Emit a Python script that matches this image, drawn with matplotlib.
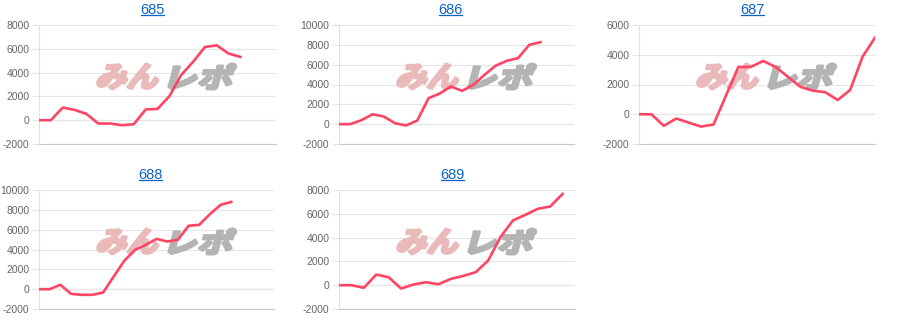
import matplotlib
matplotlib.use('Agg')
import matplotlib.pyplot as plt
from matplotlib.textpath import TextPath
from matplotlib.patches import PathPatch
from matplotlib.font_manager import FontProperties
from matplotlib.transforms import Affine2D, IdentityTransform
from matplotlib.lines import Line2D

plt.rcParams['axes.unicode_minus'] = False

# values, one list per machine
names = ['685', '686', '687', '688', '689']
v685 = [0, 0, 1060, 870, 530, -280, -280, -420, -340, 900, 950, 2010,
        3800, 4900, 6150, 6290, 5600, 5320]
v686 = [0, 0, 400, 1000, 770, 100, -130, 370, 2620, 3090, 3800, 3360,
        3960, 4970, 5900, 6390, 6660, 8000, 8270]
v687 = [0, 0, -780, -290, -560, -830, -690, 1250, 3180, 3180, 3580, 3180,
        2510, 1840, 1590, 1480, 960, 1630, 3870, 5150]
v688 = [0, 0, 440, -470, -570, -570, -340, 1280, 2890, 3970, 4470, 5070,
        4810, 4970, 6390, 6490, 7560, 8500, 8800]
v689 = [0, 0, -220, 890, 670, -280, 60, 250, 80, 530, 780, 1090, 2060,
        4040, 5440, 5910, 6420, 6610, 7670]
series = [v685, v686, v687, v688, v689]
n_labels = [21, 22, 20, 23, 20]
y_max = [8000, 10000, 6000, 10000, 8000]

W, H = 900, 330
LINE = '#ff4563'
LINK = '#0b62c9'

# plot boxes in image pixels: left, top, right, bottom
boxes = [(39, 25, 276, 144), (339, 25, 574, 144), (639, 25, 875, 144),
         (39, 190, 274, 309), (339, 190, 575, 309)]
titles_at = [(152, 10), (450, 10), (752, 10), (150, 175), (452, 175)]
offsets = [(0, 0), (300, 0), (600, 0), (0, 165), (300, 165)]

fig = plt.figure(figsize=(W / 100, H / 100), dpi=100)
wm_font = FontProperties(family='Noto Sans CJK JP', weight='bold')


def watermark(ax, text, x0, y0, x1, y1, color):
    # skewed, heavy text path fitted into an image-pixel box
    p = TextPath((0, 0), text, size=30, prop=wm_font)
    bb = p.get_extents()
    h = y1 - y0
    lean = 0.27 * h
    tr = (Affine2D().translate(-bb.x0, -bb.y0)
          .scale((x1 - x0 - lean - 2) / bb.width, (h - 2) / bb.height)
          .skew_deg(15, 0)
          .translate(x0 + 1, H - y1 + 1))
    patch = PathPatch(tr.transform_path(p), facecolor=color, edgecolor=color,
                      lw=2.2, joinstyle='round', transform=IdentityTransform(),
                      zorder=1, clip_on=False)
    ax.add_artist(patch)


for i, name in enumerate(names):
    l, t, r, b = boxes[i]
    ax = fig.add_axes([l / W, (H - b) / H, (r - l) / W, (b - t) / H])
    ax.set_facecolor('none')
    vals = series[i]
    ax.plot(range(len(vals)), vals, color=LINE, lw=1.9, zorder=3,
            solid_joinstyle='round')
    ax.set_xlim(0, n_labels[i] - 1)
    ax.set_ylim(-2000, y_max[i])
    ax.set_yticks(range(-2000, y_max[i] + 1, 2000))
    ax.set_xticks([])
    ax.grid(axis='y', color='#e6e6e6', lw=0.8, zorder=0)
    ax.axhline(0, color='#bdbdbd', lw=0.8, zorder=0.5)
    ax.set_axisbelow(True)
    for s in ['top', 'right']:
        ax.spines[s].set_visible(False)
    ax.spines['left'].set_color('#e2e2e2')
    ax.spines['bottom'].set_color('#c8c8c8')
    ax.tick_params(axis='y', length=5, width=0.8, color='#e6e6e6',
                   labelcolor='#666666', labelsize=7.5, pad=2)
    for lab in ax.get_yticklabels():
        lab.set_fontfamily('Liberation Sans')

    ox, oy = offsets[i]
    watermark(ax, 'みん', 95 + ox, 63 + oy, 164 + ox, 90 + oy, '#eab9b9')
    watermark(ax, 'レポ', 167 + ox, 63 + oy, 238 + ox, 90 + oy, '#b4b4b4')

    cx, cy = titles_at[i]
    fig.text(cx / W, 1 - cy / H, name, ha='center', va='center',
             color=LINK, fontsize=10.5, family='Liberation Sans')
    fig.add_artist(Line2D([(cx - 11.5) / W, (cx + 11.5) / W],
                          [1 - (cy + 5) / H] * 2, transform=fig.transFigure,
                          color=LINK, lw=0.9))

fig.savefig('out.png', dpi=100)
plt.close(fig)
